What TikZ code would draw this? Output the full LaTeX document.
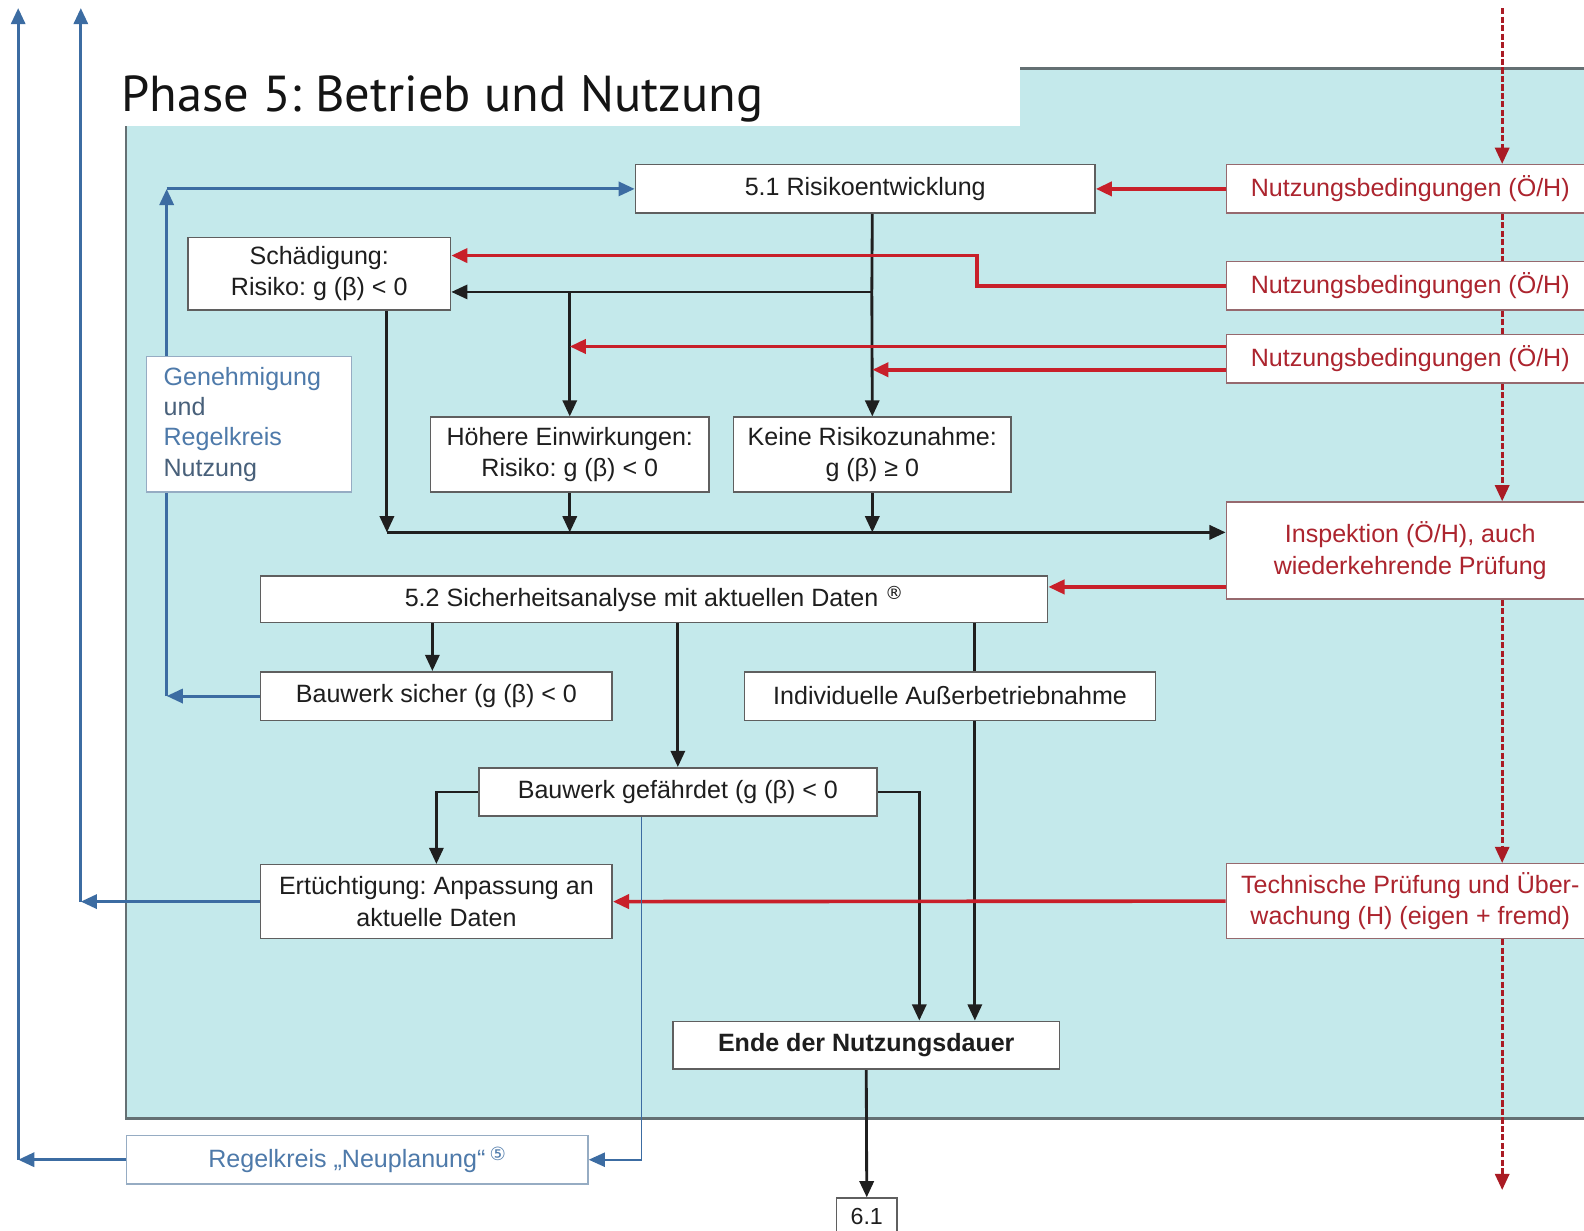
\documentclass[tikz,border=0pt]{standalone}
\usepackage{fontspec}
\setmainfont{Liberation Sans}
\newfontfamily\titlefont{PT Sans}
\newfontfamily\symfont{DejaVu Sans}
\usetikzlibrary{arrows.meta,calc}
\pgfdeclarelayer{panel}
\pgfdeclarelayer{lines}
\pgfsetlayers{panel,lines,main}
\frenchspacing

\definecolor{panelcyan}{RGB}{196,233,235}
\definecolor{panelline}{RGB}{100,112,115}
\definecolor{boxline}{RGB}{95,95,95}
\definecolor{redline}{RGB}{200,32,42}
\definecolor{redtext}{RGB}{172,36,46}
\definecolor{redbox}{RGB}{150,105,110}
\definecolor{bluline}{RGB}{60,108,162}
\definecolor{blutext}{RGB}{78,122,170}
\definecolor{bluedark}{RGB}{72,96,122}
\definecolor{blubox}{RGB}{150,172,195}
\definecolor{txt}{RGB}{30,30,30}

\newcommand{\circmark}[1]{\raisebox{0.55ex}{\symfont\fontsize{9}{9}\selectfont #1}}

\begin{document}
\begin{tikzpicture}[x=0.5pt,y=-0.5pt,
  bx/.style={draw=boxline, line width=0.75pt, fill=white, text=txt, inner sep=0pt,
             align=center, font=\fontsize{12.4}{15.5}\selectfont},
  rbx/.style={bx, draw=redbox, text=redtext},
  bbx/.style={bx, draw=blubox, text=blutext},
  arr/.style={-{Triangle[length=8pt,width=7pt]}},
  blk/.style={draw=black!88, line width=1.4pt},
  rd/.style={draw=redline, line width=1.8pt},
  rdash/.style={draw=redline!85!black, line width=1.4pt, dash pattern=on 3pt off 1.2pt},
  bl/.style={draw=bluline, line width=1.5pt},
  blthin/.style={draw=bluline, line width=0.9pt}]

\useasboundingbox (0,0) rectangle (1568,1218);

% page ground, phase panel and the white title strip
\begin{pgfonlayer}{panel}
  \fill[white] (0,0) rectangle (1568,1218);
  \fill[panelcyan] (125,68) rectangle (1600,1107);
  \draw[panelline, line width=1.2pt] (1600,68) -- (125,68) -- (125,1107) -- (1600,1107);
  \fill[white] (110,50) rectangle (1010,125);
\end{pgfonlayer}
\node[anchor=base west, inner sep=0pt, text=black!92] (title) at (120,110)
  {\resizebox{317.5pt}{!}{\titlefont Phase 5: Betrieb und Nutzung}};

% boxes
\node[bx, minimum width=227.5pt, minimum height=24pt] (r51) at (856.5,187) {5.1 Risikoentwicklung};
\node[bx, minimum width=130pt, minimum height=36pt] (schaed) at (316,271) {Schädigung:\\Risiko: g (β) < 0};
\node[bbx, align=left, text width=84.5pt, inner xsep=8.5pt, minimum height=67pt,
      font=\fontsize{12.4}{15}\selectfont] (gen) at (246.5,420)
  {Genehmigung\\\textcolor{bluedark}{und}\\Regelkreis\\\textcolor{bluedark}{Nutzung}};
\node[bx, minimum width=138pt, minimum height=37pt] (hoeh) at (564,450) {Höhere Einwirkungen:\\Risiko: g (β) < 0};
\node[bx, minimum width=137.5pt, minimum height=37pt] (keine) at (863.5,450) {Keine Risikozunahme:\\g (β) ≥ 0};

\node[rbx, minimum width=182pt, minimum height=24pt] (nbA) at (1396,187) {Nutzungsbedingungen (Ö/H)};
\node[rbx, minimum width=182pt, minimum height=24pt] (nbB) at (1396,283) {Nutzungsbedingungen (Ö/H)};
\node[rbx, minimum width=182pt, minimum height=24pt] (nbC) at (1396,355) {Nutzungsbedingungen (Ö/H)};
\node[rbx, minimum width=182pt, minimum height=48pt] (insp) at (1396,545) {Inspektion (Ö/H), auch\\wiederkehrende Prüfung};
\node[rbx, minimum width=182pt, minimum height=37pt] (tech) at (1396,892) {Technische Prüfung und Über-\\wachung (H) (eigen + fremd)};

\node[bx, minimum width=389.5pt, minimum height=23pt] (sa52) at (647.5,593)
  {5.2 Sicherheitsanalyse mit aktuellen Daten \circmark{®}};
\node[bx, minimum width=174pt, minimum height=24pt] (sicher) at (432,689) {Bauwerk sicher (g (β) < 0};
\node[bx, minimum width=203.5pt, minimum height=24pt] (indiv) at (940.5,689) {Individuelle Außerbetriebnahme};
\node[bx, minimum width=197pt, minimum height=24pt] (gefahr) at (671,784) {Bauwerk gefährdet (g (β) < 0};
\node[bx, minimum width=174pt, minimum height=36.5pt] (ertue) at (432,892.5) {Ertüchtigung: Anpassung an\\aktuelle Daten};
\node[bx, minimum width=191.5pt, minimum height=23.5pt, font=\fontsize{12.4}{15.5}\selectfont\bfseries] (ende) at (857.5,1034.5) {Ende der Nutzungsdauer};
\node[bbx, minimum width=228.5pt, minimum height=24pt] (neupl) at (353.5,1148) {Regelkreis „Neuplanung“\,\circmark{⑤}};
\node[bx, minimum width=30pt, minimum height=18pt, font=\fontsize{11.5}{13}\selectfont] (p61) at (858,1204) {6.1};

% fixed routing points
\coordinate (jA) at (863,289);
\coordinate (bus) at (383,527);
\coordinate (kB) at (967,253);
\coordinate (xI) at (965,0);
\coordinate (xE) at (910,0);
\coordinate (dTop) at (1487,8);
\coordinate (dBot) at (1487,1178);
\coordinate (upA) at (18,8);
\coordinate (upB) at (80,8);
\coordinate (loopC) at (165,0);
\coordinate (xN) at (635,0);

\begin{pgfonlayer}{lines}
  % black flow
  \draw[blk] (keine.north |- r51.south) -- (jA);
  \draw[blk, arr] (jA) -- (keine.north);
  \draw[blk, arr] (jA) -- (schaed.east |- jA);
  \draw[blk, arr] (hoeh.north |- jA) -- (hoeh.north);
  \draw[blk, arr] (bus |- schaed.south) -- (bus);
  \draw[blk, arr] (hoeh.south) -- (hoeh.south |- bus);
  \draw[blk, arr] (keine.south) -- (keine.south |- bus);
  \draw[blk, arr] (bus) -- (insp.west |- bus);
  \draw[blk, arr] (sa52.south -| 428,0) -- (sicher.north -| 428,0);
  \draw[blk, arr] (sa52.south -| gefahr.north) -- (gefahr.north);
  \draw[blk] (sa52.south -| xI) -- (indiv.north -| xI);
  \draw[blk, arr] (indiv.south -| xI) -- (ende.north -| xI);
  \draw[blk, arr] (gefahr.west) -| (ertue.north);
  \draw[blk, arr] (gefahr.east) -| (ende.north -| xE);
  \draw[blk, arr] (ende.south) -- (p61.north);

  % red inputs
  \draw[rd, arr] (nbA.west) -- (r51.east);
  \draw[rd, arr] (nbB.west) -| (kB) -- (schaed.east |- kB);
  \draw[rd, arr] ([yshift=6pt]nbC.west) -- ([yshift=6pt]nbC.west -| hoeh.north);
  \draw[rd, arr] ([yshift=-5.5pt]nbC.west) -- ([yshift=-5.5pt]nbC.west -| keine.north);
  \path ([yshift=6pt]sa52.east) coordinate (qS);
  \draw[rd, arr] (insp.west |- qS) -- (qS);
  \draw[rd, arr] (tech.west) -- (ertue.east);

  % red dashed supervision line
  \draw[rdash, arr] (dTop) -- (nbA.north -| dTop);
  \draw[rdash] (nbA.south -| dTop) -- (nbB.north -| dTop);
  \draw[rdash] (nbB.south -| dTop) -- (nbC.north -| dTop);
  \draw[rdash, arr] (nbC.south -| dTop) -- (insp.north -| dTop);
  \draw[rdash, arr] (insp.south -| dTop) -- (tech.north -| dTop);
  \draw[rdash, arr] (tech.south -| dTop) -- (dBot);

  % blue feedback loops
  \draw[bl, arr] (sicher.west) -- (sicher.west -| loopC);
  \draw[bl, arr] (sicher.west -| loopC) -- (loopC |- r51.west);
  \draw[bl, arr] (loopC |- r51.west) -- (r51.west);
  \draw[bl, arr] (ertue.west) -- (ertue.west -| upB);
  \draw[bl, arr] (ertue.west -| upB) -- (upB);
  \draw[bl, arr] (neupl.west) -- (neupl.west -| upA);
  \draw[bl, arr] (neupl.west -| upA) -- (upA);
  \draw[blthin, arr] (gefahr.south -| xN) |- (neupl.east);
\end{pgfonlayer}
\end{tikzpicture}
\end{document}
